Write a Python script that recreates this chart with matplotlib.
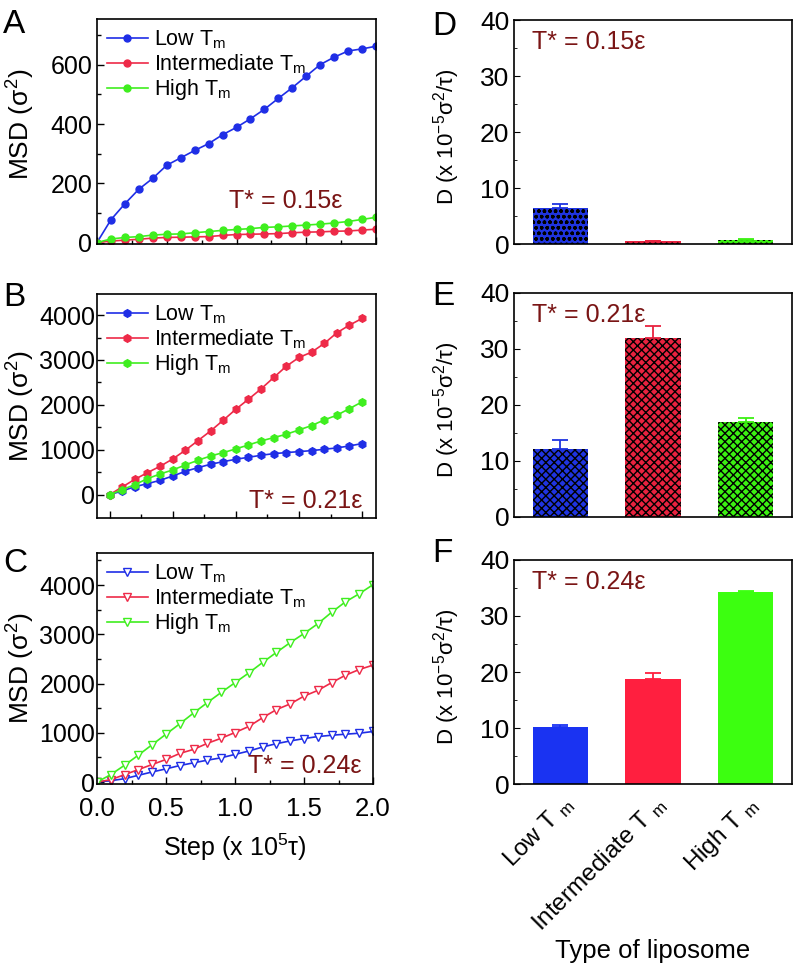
import matplotlib
matplotlib.use("Agg")
import matplotlib.pyplot as plt
import numpy as np

plt.rcParams['font.family'] = ['Liberation Sans', 'DejaVu Sans']
plt.rcParams['mathtext.default'] = 'regular'
plt.rcParams['hatch.linewidth'] = 1.0

# ---- data ----
step = [i / 10 for i in range(21)]   # x 10^5 tau

msd_a_low = [0, 77, 131, 180, 217, 261, 286, 311, 334, 364, 389, 418, 450, 487, 523, 562, 601, 626, 647, 654, 663]
msd_a_mid = [0, 5, 8, 11, 15, 17, 18, 19, 20, 24, 27, 28, 29, 30, 33, 35, 36, 38, 39, 42, 45]
msd_a_high = [0, 12, 17, 20, 25, 28, 29, 33, 37, 41, 44, 47, 51, 53, 56, 59, 62, 66, 71, 78, 85]

msd_b_low = [0, 82, 178, 245, 320, 416, 520, 602, 677, 736, 788, 833, 877, 914, 937, 959, 981, 1011, 1041, 1086, 1138]
msd_b_mid = [0, 171, 342, 491, 632, 796, 989, 1204, 1420, 1658, 1903, 2126, 2357, 2610, 2862, 3056, 3175, 3368, 3606, 3777, 3926]
msd_b_high = [0, 112, 223, 357, 461, 550, 662, 766, 862, 937, 1019, 1108, 1197, 1271, 1346, 1442, 1539, 1665, 1770, 1918, 2067]

msd_c_low = [0, 27, 68, 137, 205, 267, 335, 390, 444, 492, 561, 629, 711, 779, 834, 882, 923, 950, 971, 991, 1026]
msd_c_mid = [0, 48, 150, 253, 356, 458, 581, 663, 786, 889, 1005, 1128, 1306, 1470, 1586, 1744, 1860, 2017, 2168, 2284, 2373]
msd_c_high = [0, 150, 342, 547, 759, 971, 1183, 1402, 1614, 1819, 2017, 2215, 2427, 2632, 2831, 3015, 3214, 3446, 3658, 3822, 4007]

liposome = ['Low T $_m$', 'Intermediate T $_m$', 'High T $_m$']
d_015 = [6.5, 0.45, 0.75]
d_015_err = [0.7, 0.1, 0.1]
d_021 = [12.1, 32.0, 16.9]
d_021_err = [1.6, 2.1, 0.8]
d_024 = [10.1, 18.7, 34.2]
d_024_err = [0.5, 1.2, 0.2]

series_names = ['Low T$_m$', 'Intermediate T$_m$', 'High T$_m$']
line_colors = ['#1f2ee6', '#ee2a48', '#3fee1f']
bar_colors = ['#1a33f2', '#ff1f3f', '#3cff10']
hatch_colors = ['#1f34e0', '#e8223f', '#3cf012']
note_color = '#7a1515'

fig = plt.figure(figsize=(7.96, 9.65), dpi=100)
W, H = 796, 965


def add_ax(l, t, r, b):
    return fig.add_axes([l / W, 1 - b / H, (r - l) / W, (b - t) / H])


def style_line_ax(ax, pad):
    ax.tick_params(which='both', direction='in', top=False, right=False, labelsize=18)
    ax.tick_params(which='major', length=5, width=1)
    ax.tick_params(which='minor', length=3, width=1)
    ax.tick_params(axis='y', pad=pad)
    for s in ax.spines.values():
        s.set_linewidth(1.2)


ax_a = add_ax(97, 19, 376, 244)
ax_b = add_ax(97, 294, 376, 518)
ax_c = add_ax(97, 553, 373, 784)

panels = [
    (ax_a, [msd_a_low, msd_a_mid, msd_a_high], 'o', 5, True, 'T* = 0.15ε', (0.88, 0.16), 3.5, 0.53),
    (ax_b, [msd_b_low, msd_b_mid, msd_b_high], 'h', 5.5, True, 'T* = 0.21ε', (0.95, 0.045), 1.2, 0.5),
    (ax_c, [msd_c_low, msd_c_mid, msd_c_high], 'v', 6, False, 'T* = 0.24ε', (0.96, 0.048), 1.2, 0.5),
]
for ax, ys, mk, ms, filled, note, pos, pad, ly in panels:
    for y, c, name in zip(ys, line_colors, series_names):
        ax.plot(step, y, color=c, lw=1.2, marker=mk, ms=ms,
                mfc=c if filled else 'white', mec=c, mew=1.0, label=name)
    style_line_ax(ax, pad)
    ax.set_ylabel('MSD (σ$^2$)', fontsize=19)
    w = ax.get_position().width * W
    ax.yaxis.set_label_coords((37 - 97) / w, ly)
    ax.legend(loc='upper left', frameon=False, fontsize=15.5, handlelength=1.9,
              handletextpad=0.3, labelspacing=0.05, borderaxespad=0.3, borderpad=0.15)
    ax.text(pos[0], pos[1], note, transform=ax.transAxes, ha='right', va='baseline',
            fontsize=18, color=note_color)

ax_a.set_xlim(0, 2.0)
ax_a.set_ylim(-5, 755)
ax_a.set_yticks([0, 200, 400, 600])
ax_a.set_yticks(np.arange(100, 751, 200), minor=True)
ax_a.set_xticks([0, 0.5, 1.0, 1.5, 2.0])
ax_a.set_xticks([0.25, 0.75, 1.25, 1.75], minor=True)
ax_a.set_xticklabels([])

ax_b.set_xlim(-0.1, 2.11)
ax_b.set_ylim(-520, 4470)
ax_b.set_yticks([0, 1000, 2000, 3000, 4000])
ax_b.set_yticks([500, 1500, 2500, 3500], minor=True)
ax_b.set_xticks([0, 0.5, 1.0, 1.5, 2.0])
ax_b.set_xticks([0.25, 0.75, 1.25, 1.75], minor=True)
ax_b.set_xticklabels([])

ax_c.set_xlim(0, 2.0)
ax_c.set_ylim(-40, 4650)
ax_c.set_yticks([0, 1000, 2000, 3000, 4000])
ax_c.set_yticks([500, 1500, 2500, 3500, 4500], minor=True)
ax_c.set_xticks([0, 0.5, 1.0, 1.5, 2.0])
ax_c.set_xticks([0.25, 0.75, 1.25, 1.75], minor=True)
ax_c.set_xticklabels(['0.0', '0.5', '1.0', '1.5', '2.0'])
ax_c.tick_params(axis='x', pad=9, labelsize=18.5)
ax_c.set_xlabel('Step (x 10$^5$τ)', fontsize=18, labelpad=8)

# ---- bar panels ----
ax_d = add_ax(514, 20, 792, 244)
ax_e = add_ax(514, 293, 792, 517)
ax_f = add_ax(514, 560, 792, 784)

xpos = np.arange(1, 4)
bar_panels = [
    (ax_d, d_015, d_015_err, 'ooo', 'T* = 0.15ε'),
    (ax_e, d_021, d_021_err, 'xxxx', 'T* = 0.21ε'),
    (ax_f, d_024, d_024_err, None, 'T* = 0.24ε'),
]
for ax, vals, errs, hatch, note in bar_panels:
    for x, v, e, c, hc in zip(xpos, vals, errs, bar_colors, hatch_colors):
        ax.bar(x, v, width=0.6, color=hc if hatch else c, linewidth=0, zorder=2)
        if hatch:
            ax.bar(x, v, width=0.6, facecolor='none', edgecolor='black',
                   hatch=hatch, linewidth=0, zorder=3)
        ax.errorbar(x, v, yerr=[[0], [e]], color=c if not hatch else hc,
                    capsize=6, elinewidth=1.3, capthick=1.3, zorder=4)
    ax.set_xlim(0.5, 3.5)
    ax.set_ylim(0, 40)
    ax.set_yticks([0, 10, 20, 30, 40])
    ax.set_yticks([5, 15, 25, 35], minor=True)
    ax.tick_params(which='both', direction='in', labelsize=19)
    ax.tick_params(axis='y', which='major', length=4)
    ax.tick_params(axis='y', which='minor', length=2)
    ax.tick_params(axis='x', length=0)
    for s in ax.spines.values():
        s.set_linewidth(1.2)
    ax.set_ylabel('D (x 10$^{-5}$σ$^2$/τ)', fontsize=16)
    ax.yaxis.set_label_coords((462 - 514) / 278, 0.48)
    ax.text(0.065, 0.87, note, transform=ax.transAxes, ha='left', va='baseline',
            fontsize=18, color=note_color)
    ax.set_xticks(xpos)
    ax.set_xticklabels([])

ax_f.set_xticklabels(liposome, rotation=45, ha='right', rotation_mode='anchor', fontsize=17.5)
ax_f.tick_params(axis='x', pad=6)
ax_f.set_xlabel('Type of liposome', fontsize=18.5, labelpad=2)

# panel letters
for letter, x, y in [('A', 3, 33), ('B', 3, 306), ('C', 3, 572),
                     ('D', 432, 35), ('E', 432, 305), ('F', 432, 562)]:
    fig.text(x / W, 1 - y / H, letter, fontsize=24, ha='left', va='baseline')

fig.savefig('out.png', dpi=100)
